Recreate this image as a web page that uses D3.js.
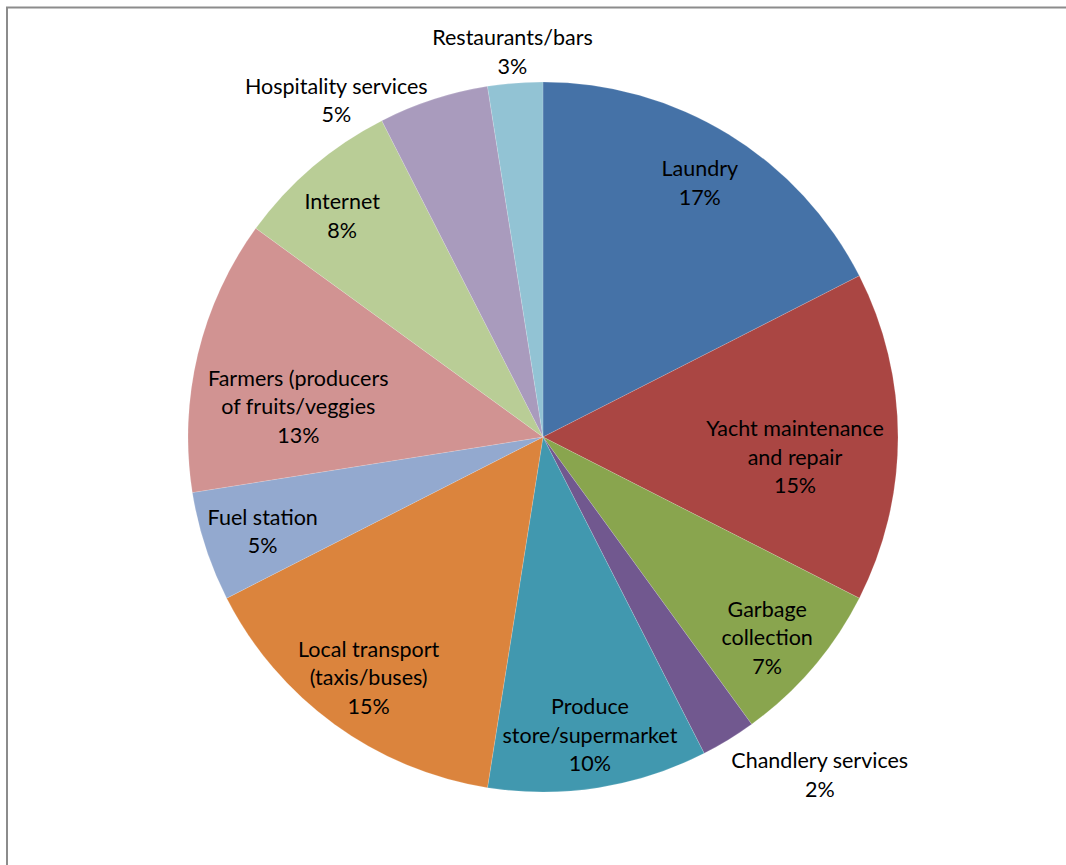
<!DOCTYPE html>
<html>
<head>
<meta charset="utf-8">
<script src="https://cdn.jsdelivr.net/npm/d3@7"></script>
<style>
  body { margin: 0; background: #fff; }
  text { font-family: Lato, "Open Sans", sans-serif; fill: #000; }
</style>
</head>
<body>
<svg id="pie"></svg>
<script>
// slice data, clockwise from 12 o'clock
var categories = ["Laundry", "Yacht maintenance\nand repair", "Garbage\ncollection", "Chandlery services",
  "Produce\nstore/supermarket", "Local transport\n(taxis/buses)", "Fuel station",
  "Farmers (producers\nof fruits/veggies", "Internet", "Hospitality services", "Restaurants/bars"]
var values = [17.5, 15, 7.5, 2.5, 10, 15, 5, 12.5, 7.5, 5, 2.5]
var pctLabels = ["17%", "15%", "7%", "2%", "10%", "15%", "5%", "13%", "8%", "5%", "3%"]
var colors = ["#4572a7", "#aa4643", "#89a54e", "#71588f", "#4198af", "#db843d",
  "#93a9cf", "#d19392", "#b9cd96", "#a99bbd", "#92c3d4"]

var screen = {width: 1066, height: 865}
var cx = 543, cy = 437, radius = 355
var labelR = 300
var lineH = 28.5

// nudges for labels Excel moved off the default spot
var nudge = [[0, 2], [-48, 20], [-4, 6], [120, 82], [0, 2], [2, -2], [5, 2],
  [47, 40], [-6, 7], [-114, -51], [-7, -86]]

var svg = d3.select("#pie")
  .attr("width", screen.width)
  .attr("height", screen.height)

// chart frame (top and left edges show)
svg.append("rect")
  .attr("x", 7).attr("y", 7.5)
  .attr("width", 1080).attr("height", 900)
  .attr("fill", "none")
  .attr("stroke", "#8c8c8c")
  .attr("stroke-width", 2)

var pie = d3.pie().sort(null).value(function(d){ return d })
var arcs = pie(values)

var arc = d3.arc().innerRadius(0).outerRadius(radius)
var labelArc = d3.arc().innerRadius(labelR).outerRadius(labelR)

var chart = svg.append("g")
  .attr("transform", "translate(" + cx + "," + cy + ")")

chart.selectAll("path")
  .data(arcs)
  .enter()
  .append("path")
  .attr("d", arc)
  .attr("fill", function(d, i){ return colors[i] })
  .attr("stroke", "#fff")
  .attr("stroke-opacity", 0.25)
  .attr("stroke-width", 0.6)

var labels = chart.selectAll("text.lbl")
  .data(arcs)
  .enter()
  .append("text")
  .attr("class", "lbl")
  .attr("text-anchor", "middle")
  .style("font-size", "21.5px")
  .attr("transform", function(d, i){
    var c = labelArc.centroid(d)
    return "translate(" + (c[0] + nudge[i][0]) + "," + (c[1] + nudge[i][1]) + ")"
  })

labels.each(function(d, i){
  var lines = categories[i].split("\n").concat([pctLabels[i]])
  var y0 = -(lines.length - 1) * lineH / 2 + 7.5
  var t = d3.select(this)
  lines.forEach(function(s, k){
    t.append("tspan").attr("x", 0).attr("y", y0 + k * lineH).text(s)
  })
})
</script>
</body>
</html>
